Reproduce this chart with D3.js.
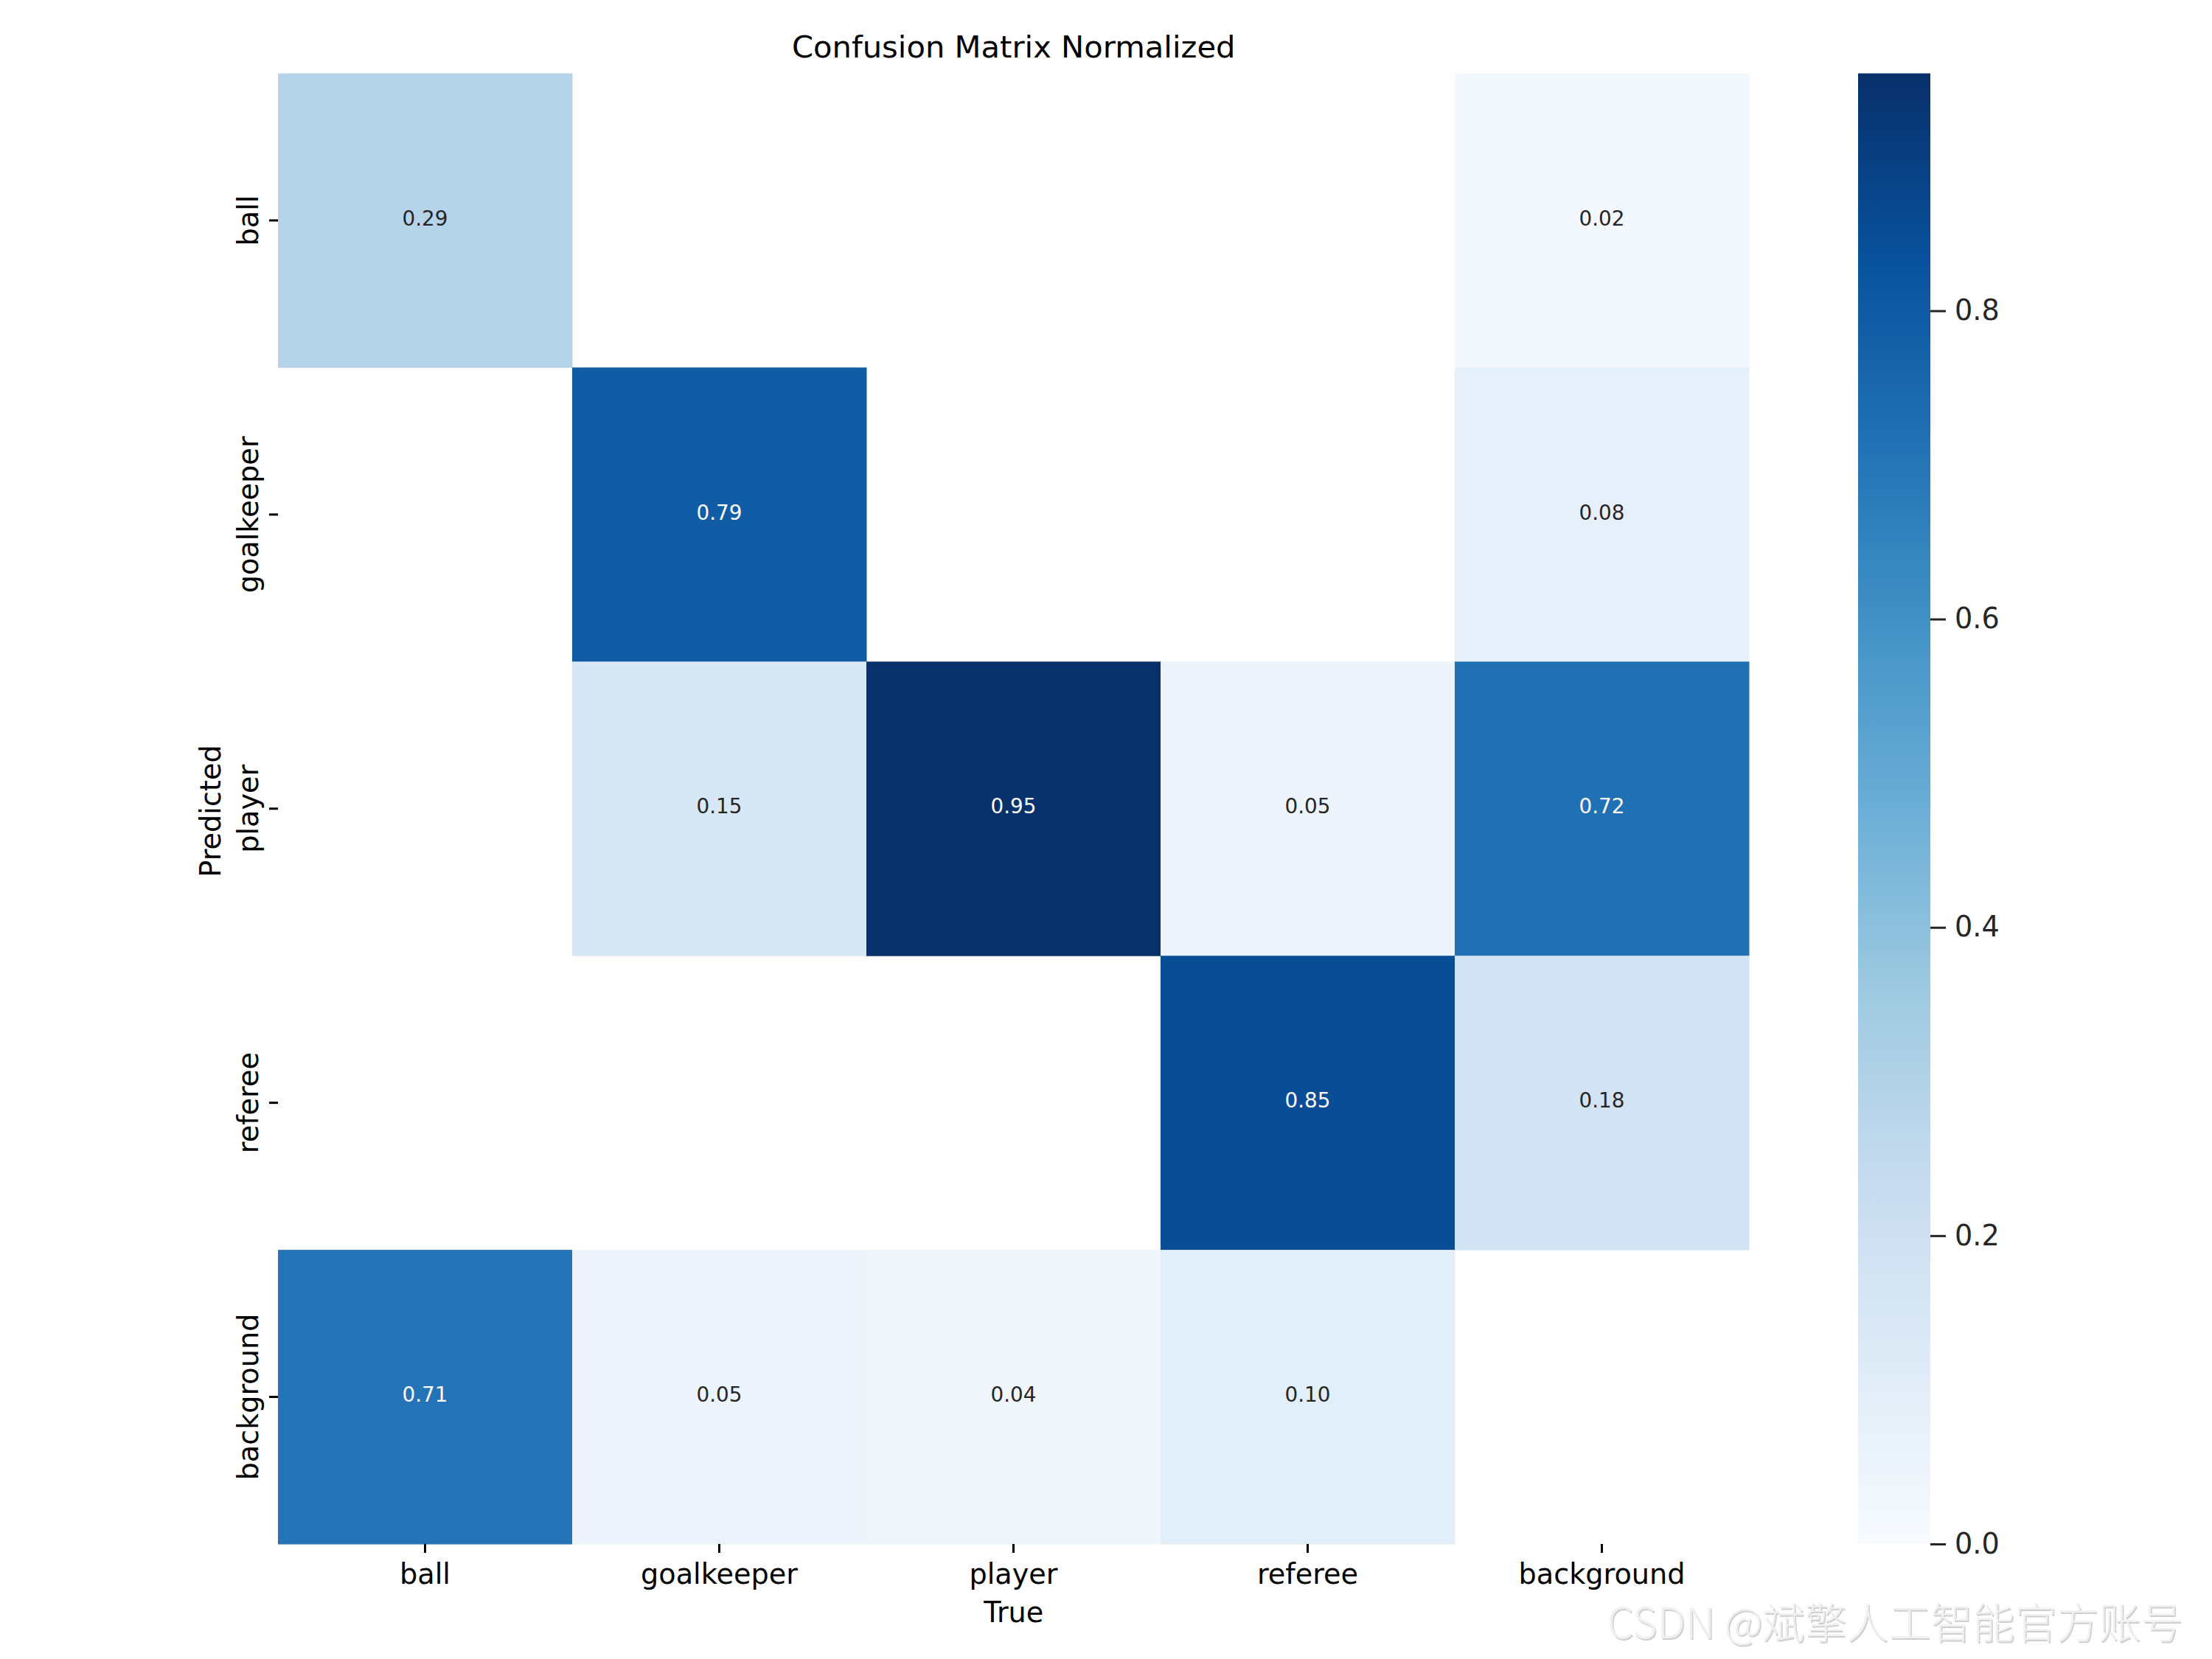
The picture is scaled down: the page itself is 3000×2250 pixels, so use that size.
<!DOCTYPE html>
<html>
<head>
<meta charset="utf-8">
<script src="https://cdn.jsdelivr.net/npm/d3@7/dist/d3.min.js"></script>
<style>
  body { margin: 0; background: #fff; }
  svg { display: block; font-family: "DejaVu Sans", sans-serif; }
</style>
</head>
<body>
<svg id="chart" width="3000" height="2250"></svg>
<script>
// Class names (True on x, Predicted on y).
const classes = ["ball", "goalkeeper", "player", "referee", "background"];

// One array per predicted row; null = masked (< 0.005) cell.
const rowBall       = [0.29, null, null,  null, 0.02];
const rowGoalkeeper = [null, 0.79, null,  null, 0.08];
const rowPlayer     = [null, 0.15, 0.954, 0.05, 0.72];
const rowReferee    = [null, null, null,  0.85, 0.18];
const rowBackground = [0.71, 0.05, 0.04,  0.10, null];

const colorbarTicks = [0.0, 0.2, 0.4, 0.6, 0.8];

// matplotlib "Blues" anchor colours.
const blues = ["#f7fbff", "#deebf7", "#c6dbef", "#9ecae1", "#6baed6",
               "#4292c6", "#2171b5", "#08519c", "#08306b"];

const matrix = [rowBall, rowGoalkeeper, rowPlayer, rowReferee, rowBackground];

let cells = [];
matrix.forEach(function (row, i) {
	row.forEach(function (v, j) {
		if (v !== null) cells.push({ pred: classes[i], truth: classes[j], value: v });
	});
});

let vmax = d3.max(cells, d => d.value);

let svg = d3.select("#chart");

// Heatmap scales.
let x = d3.scaleBand().domain(classes).range([377, 2372]);
let y = d3.scaleBand().domain(classes).range([99.5, 2094]);

let color = d3.scaleLinear()
	.domain(blues.map((c, i) => i / (blues.length - 1) * vmax))
	.range(blues)
	.interpolate(d3.interpolateRgb);

// Relative luminance, used to pick the annotation colour like seaborn does.
function luminance(c) {
	let rgb = d3.rgb(c);
	let lin = [rgb.r, rgb.g, rgb.b].map(function (v) {
		v = v / 255;
		return v <= 0.03928 ? v / 12.92 : Math.pow((v + 0.055) / 1.055, 2.4);
	});
	return 0.2126 * lin[0] + 0.7152 * lin[1] + 0.0722 * lin[2];
}

// Cells.
svg.append("g").selectAll("rect")
	.data(cells)
	.enter().append("rect")
	.attr("x", d => x(d.truth))
	.attr("y", d => y(d.pred))
	.attr("width", x.bandwidth() + 0.5)
	.attr("height", y.bandwidth() + 0.5)
	.attr("fill", d => color(d.value));

// Annotations.
svg.append("g").selectAll("text")
	.data(cells)
	.enter().append("text")
	.attr("x", d => x(d.truth) + x.bandwidth() / 2)
	.attr("y", d => y(d.pred) + y.bandwidth() / 2)
	.attr("dy", "0.24em")
	.attr("text-anchor", "middle")
	.style("font-size", "27.8px")
	.attr("fill", d => luminance(color(d.value)) > 0.408 ? "#262626" : "#ffffff")
	.text(d => d.value.toFixed(2));

// x axis.
let xAxis = svg.append("g")
	.attr("transform", "translate(0,2094)")
	.call(d3.axisBottom(x).tickSize(12).tickPadding(15));
xAxis.select(".domain").remove();
xAxis.selectAll("line").attr("stroke", "#000").attr("stroke-width", 3);
xAxis.selectAll("text")
	.attr("fill", "#000")
	.style("font-size", "38.2px")
	.style("font-family", "DejaVu Sans");

// y axis with rotated labels.
let yAxis = svg.append("g")
	.attr("transform", "translate(377,0)")
	.call(d3.axisLeft(y).tickSize(12));
yAxis.select(".domain").remove();
yAxis.selectAll("line").attr("stroke", "#000").attr("stroke-width", 3);
yAxis.selectAll("text")
	.attr("x", null)
	.attr("dy", null)
	.attr("transform", "translate(-27,0) rotate(-90)")
	.attr("text-anchor", "middle")
	.attr("fill", "#000")
	.style("font-size", "38.2px")
	.style("font-family", "DejaVu Sans");

// Axis labels and title.
svg.append("text")
	.attr("x", 1374.75)
	.attr("y", 2200)
	.attr("text-anchor", "middle")
	.style("font-size", "38.2px")
	.text("True");

svg.append("text")
	.attr("transform", "translate(299,1100) rotate(-90)")
	.attr("text-anchor", "middle")
	.style("font-size", "38.2px")
	.text("Predicted");

svg.append("text")
	.attr("x", 1374.75)
	.attr("y", 78)
	.attr("text-anchor", "middle")
	.style("font-size", "41.7px")
	.text("Confusion Matrix Normalized");

// Colorbar.
let cbY = d3.scaleLinear().domain([0, vmax]).range([2094, 99.5]);

let grad = svg.append("defs").append("linearGradient")
	.attr("id", "cb-grad")
	.attr("x1", 0).attr("y1", 1).attr("x2", 0).attr("y2", 0);
grad.selectAll("stop")
	.data(blues)
	.enter().append("stop")
	.attr("offset", (d, i) => i / (blues.length - 1))
	.attr("stop-color", d => d);

svg.append("rect")
	.attr("x", 2520)
	.attr("y", cbY(vmax))
	.attr("width", 98)
	.attr("height", cbY(0) - cbY(vmax))
	.attr("fill", "url(#cb-grad)");

let cbAxis = svg.append("g")
	.attr("transform", "translate(2618,0)")
	.call(d3.axisRight(cbY).tickValues(colorbarTicks).tickFormat(d3.format(".1f"))
		.tickSize(21).tickPadding(12));
cbAxis.select(".domain").remove();
cbAxis.selectAll("line").attr("stroke", "#262626").attr("stroke-width", 3);
cbAxis.selectAll("text")
	.attr("fill", "#262626")
	.style("font-size", "38.2px")
	.style("font-family", "DejaVu Sans");

// Watermark.
let wm = "CSDN @斌擎人工智能官方账号";
svg.append("text")
	.attr("x", 2181.5)
	.attr("y", 2223.5)
	.style("font-family", "Noto Sans CJK SC")
	.style("font-weight", 300)
	.style("font-size", "57px")
	.attr("fill", "#cfcfcf")
	.text(wm);
svg.append("text")
	.attr("x", 2180)
	.attr("y", 2222)
	.style("font-family", "Noto Sans CJK SC")
	.style("font-weight", 300)
	.style("font-size", "57px")
	.attr("fill", "#f0f0f0")
	.text(wm);
</script>
</body>
</html>
